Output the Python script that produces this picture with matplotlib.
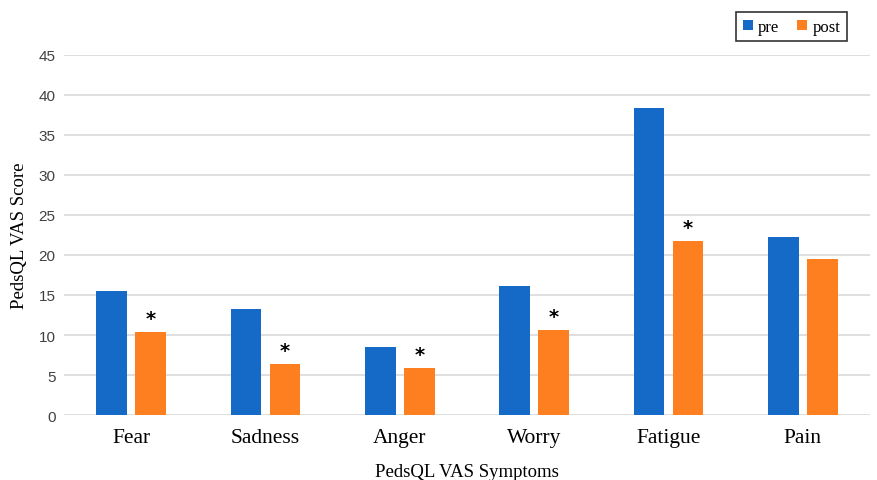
import matplotlib.pyplot as plt
import numpy as np

# PedsQL VAS scores before / after
symptoms = ['Fear', 'Sadness', 'Anger', 'Worry', 'Fatigue', 'Pain']
pre = [15.5, 13.3, 8.5, 16.1, 38.4, 22.3]
post = [10.4, 6.4, 5.9, 10.6, 21.7, 19.5]
significant = [True, True, True, True, True, False]
yticks = [0, 5, 10, 15, 20, 25, 30, 35, 40, 45]

blue = '#1569c7'
orange = '#fd7f20'

fig = plt.figure(figsize=(8.77, 4.81), dpi=100)
ax = fig.add_axes([0.073, 0.135, 0.919, 0.749])

x = np.arange(len(symptoms))
w = 0.23
ax.bar(x - 0.145, pre, w, color=blue, label='pre', zorder=3)
ax.bar(x + 0.145, post, w, color=orange, label='post', zorder=3)

# significance stars
for xi, v, s in zip(x, post, significant):
    if s:
        ax.annotate('*', (xi + 0.145, v), xytext=(0, 3), textcoords='offset points',
                    ha='center', va='bottom', fontsize=14, fontweight='bold',
                    family='DejaVu Sans')

ax.set_xlim(-0.5, len(symptoms) - 0.5)
ax.set_ylim(0, 45)
ax.set_yticks(yticks)
ax.yaxis.grid(True, color='#d9d9d9', linewidth=1.2, zorder=0)
for sp in ax.spines.values():
    sp.set_visible(False)
ax.tick_params(axis='both', length=0)
ax.tick_params(axis='y', labelsize=11, labelcolor='#404040', pad=6)
ax.set_xticks(x)
ax.set_xticklabels(symptoms, family='Liberation Serif', fontsize=15.5)
ax.tick_params(axis='x', pad=9)
for lab in ax.get_yticklabels():
    lab.set_family('Liberation Sans')

ax.set_ylabel('PedsQL VAS Score', family='Liberation Serif', fontsize=13.5, labelpad=8)
ax.set_xlabel('PedsQL VAS Symptoms', family='Liberation Serif', fontsize=13.5, labelpad=12)

leg = fig.legend(loc='upper left', bbox_to_anchor=(0.83, 0.99), ncol=2,
                 prop={'family': 'Liberation Serif', 'size': 12},
                 handlelength=0.6, handleheight=0.6, handletextpad=0.3,
                 columnspacing=1.1, fancybox=False, borderpad=0.4)
leg.get_frame().set_edgecolor('black')
leg.get_frame().set_linewidth(1.2)

fig.savefig('out.png', dpi=100)
